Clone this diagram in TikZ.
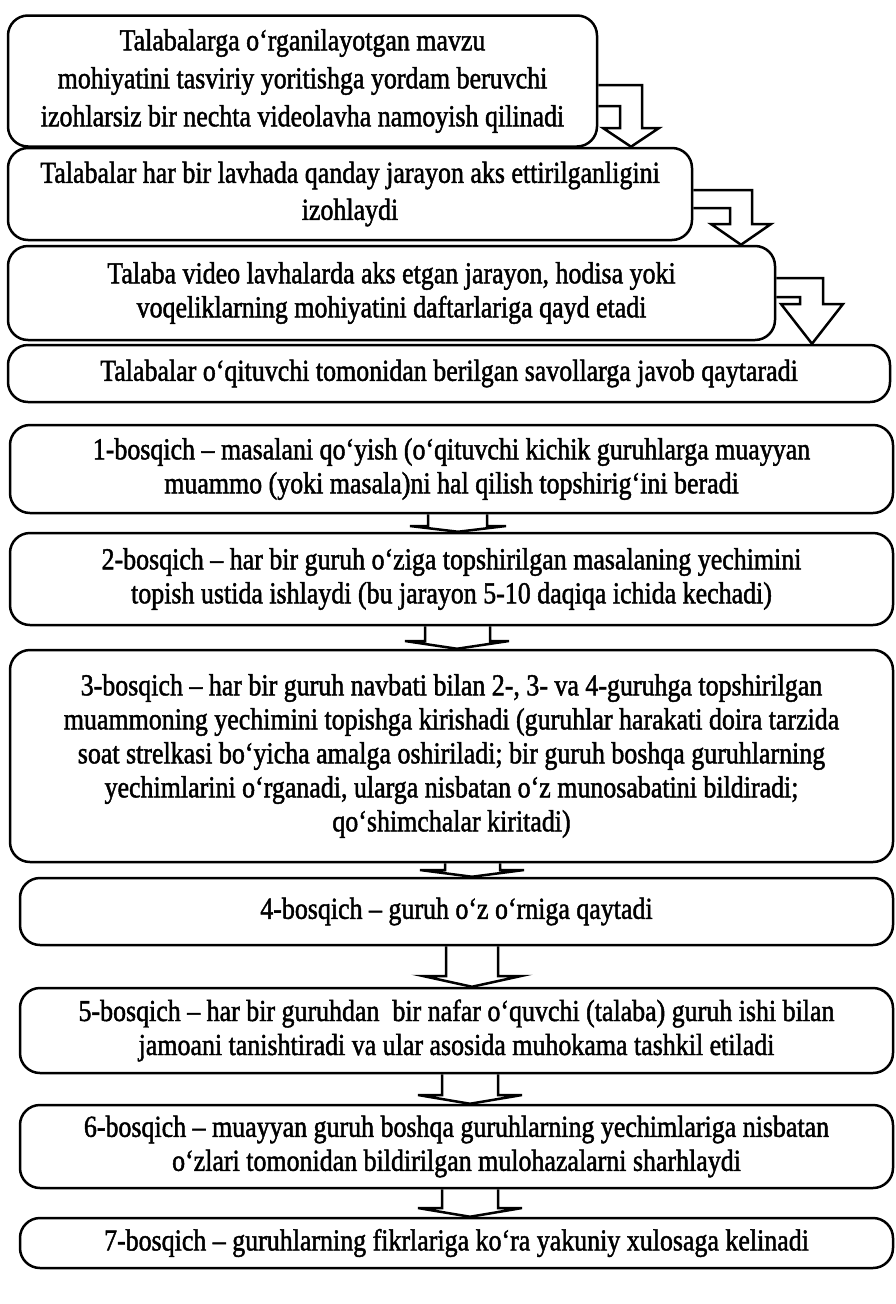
\documentclass[tikz,border=0pt]{standalone}
\usepackage{fontspec}
\setmainfont{Liberation Serif}[FakeStretch=0.85,FakeBold=1.5]
\begin{document}
\begin{tikzpicture}[x=1pt,y=-1pt,
  box/.style={draw, line width=2.5pt, rounded corners=20pt, align=center, inner sep=0pt,
    font=\fontsize{30.5}{34}\selectfont},
  arr/.style={draw, line width=2.5pt, line join=miter}]
\useasboundingbox (0,0) rectangle (896,1304);
% upper chain
\node[box, minimum width=589pt, minimum height=131pt, font=\fontsize{30.5}{38}\selectfont] (b1) at (302.5,81)
 {Talabalarga o‘rganilayotgan mavzu\\ mohiyatini tasviriy yoritishga yordam beruvchi\\ izohlarsiz bir nechta videolavha namoyish qilinadi};
\node[box, minimum width=684pt, minimum height=92pt, font=\fontsize{30.5}{37}\selectfont] (b2) at (350,194)
 {Talabalar har bir lavhada qanday jarayon aks ettirilganligini\\ izohlaydi};
\node[box, minimum width=767pt, minimum height=94pt] (b3) at (391.5,293)
 {Talaba video lavhalarda aks etgan jarayon, hodisa yoki\\ voqeliklarning mohiyatini daftarlariga qayd etadi};
\node[box, minimum width=882pt, minimum height=57pt] (b4) at (449,373.5)
 {Talabalar o‘qituvchi tomonidan berilgan savollarga javob qaytaradi};
% bent arrows
\draw[arr] (b1.east |- 0,85) -- (642,85) -- (642,128) -- (659,128) -- (b2.north -| 631,0) -- (603,128) -- (620,128) -- (620,106) -- (b1.east |- 0,106);
\draw[arr] (b2.east |- 0,190) -- (752,190) -- (752,224) -- (771,224) -- (b3.north -| 741,0) -- (711,224) -- (730,224) -- (730,208) -- (b2.east |- 0,208);
\draw[arr] (b3.east |- 0,278) -- (823,278) -- (823,304) -- (843,304) -- (b4.north -| 812,0) -- (781,304) -- (800,304) -- (800,297) -- (b3.east |- 0,297);
% lower chain
\node[box, minimum width=883pt, minimum height=88pt] (s1) at (451.5,469)
 {1-bosqich – masalani qo‘yish (o‘qituvchi kichik guruhlarga muayyan\\ muammo (yoki masala)ni hal qilish topshirig‘ini beradi};
\node[box, minimum width=883pt, minimum height=92pt] (s2) at (451.5,579)
 {2-bosqich – har bir guruh o‘ziga topshirilgan masalaning yechimini\\ topish ustida ishlaydi (bu jarayon 5-10 daqiqa ichida kechadi)};
\node[box, minimum width=883pt, minimum height=212pt] (s3) at (451.5,756)
 {3-bosqich – har bir guruh navbati bilan 2-, 3- va 4-guruhga topshirilgan\\ muammoning yechimini topishga kirishadi (guruhlar harakati doira tarzida\\ soat strelkasi bo‘yicha amalga oshiriladi; bir guruh boshqa guruhlarning\\ yechimlarini o‘rganadi, ularga nisbatan o‘z munosabatini bildiradi;\\ qo‘shimchalar kiritadi)};
\node[box, minimum width=873pt, minimum height=67pt] (s4) at (456.5,911.5)
 {4-bosqich – guruh o‘z o‘rniga qaytadi};
\node[box, minimum width=873pt, minimum height=85pt] (s5) at (456.5,1030.5)
 {5-bosqich – har bir guruhdan \ bir nafar o‘quvchi (talaba) guruh ishi bilan\\ jamoani tanishtiradi va ular asosida muhokama tashkil etiladi};
\node[box, minimum width=873pt, minimum height=83pt] (s6) at (456.5,1146.5)
 {6-bosqich – muayyan guruh boshqa guruhlarning yechimlariga nisbatan\\ o‘zlari tomonidan bildirilgan mulohazalarni sharhlaydi};
\node[box, minimum width=873pt, minimum height=50pt] (s7) at (456.5,1243)
 {7-bosqich – guruhlarning fikrlariga ko‘ra yakuniy xulosaga kelinadi};
% block arrows
\draw[arr] (s1.south -| 428,0) -- (428,526) -- (410,526) -- (s2.north -| 458,0) -- (506,526) -- (487,526) -- (s1.south -| 487,0);
\draw[arr] (s2.south -| 425,0) -- (425,641) -- (405,641) -- (s3.north -| 457,0) -- (509,641) -- (490,641) -- (s2.south -| 490,0);
\draw[arr] (s3.south -| 445,0) -- (445,870) -- (420,870) -- (s4.north -| 472,0) -- (524,870) -- (500,870) -- (s3.south -| 500,0);
\draw[arr] (s4.south -| 446,0) -- (446,976) -- (423,976) -- (s5.north -| 472,0) -- (521,976) -- (498,976) -- (s4.south -| 498,0);
\draw[arr] (s5.south -| 442,0) -- (442,1095) -- (418,1095) -- (s6.north -| 470,0) -- (522,1095) -- (498,1095) -- (s5.south -| 498,0);
\draw[arr] (s6.south -| 442,0) -- (442,1208) -- (418,1208) -- (s7.north -| 470,0) -- (522,1208) -- (498,1208) -- (s6.south -| 498,0);
\end{tikzpicture}
\end{document}
